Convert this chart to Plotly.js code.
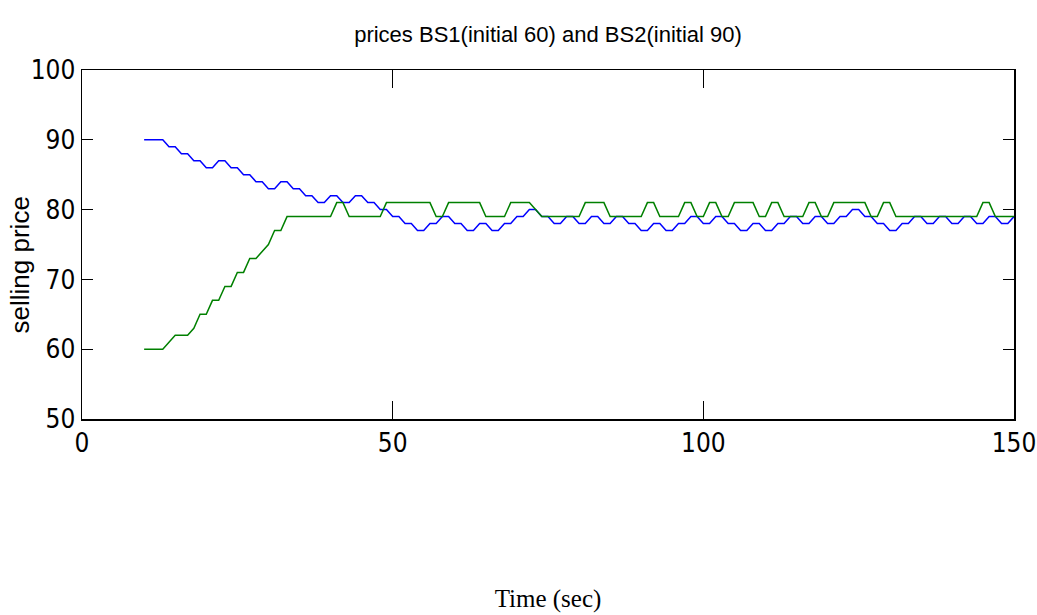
<!DOCTYPE html>
<html>
<head>
<meta charset="utf-8">
<script src="https://cdn.plot.ly/plotly-3.0.1.min.js"></script>
<style>
  html, body { margin: 0; padding: 0; background: #ffffff; }
  #chart { width: 1037px; height: 615px; }
</style>
</head>
<body>
<div id="chart"></div>
<script>
// Time in seconds (samples every second)
const timeSec = [
  10,11,12,13,14,15,16,17,18,19,20,21,22,23,24,25,26,27,28,29,
  30,31,32,33,34,35,36,37,38,39,40,41,42,43,44,45,46,47,48,49,
  50,51,52,53,54,55,56,57,58,59,60,61,62,63,64,65,66,67,68,69,
  70,71,72,73,74,75,76,77,78,79,80,81,82,83,84,85,86,87,88,89,
  90,91,92,93,94,95,96,97,98,99,100,101,102,103,104,105,106,107,108,109,
  110,111,112,113,114,115,116,117,118,119,120,121,122,123,124,125,126,127,128,129,
  130,131,132,133,134,135,136,137,138,139,140,141,142,143,144,145,146,147,148,149,
  150
];

// BS2 selling price (initial 90) - blue
const priceBS2 = [
  90,90,90,90,89,89,88,88,87,87,86,86,87,87,86,86,85,85,84,84,
  83,83,84,84,83,83,82,82,81,81,82,82,81,81,82,82,81,81,80,80,
  79,79,78,78,77,77,78,78,79,79,78,78,77,77,78,78,77,77,78,78,
  79,79,80,80,79,79,78,78,79,79,78,78,79,79,78,78,79,79,78,78,
  77,77,78,78,77,77,78,78,79,79,78,78,79,79,78,78,77,77,78,78,
  77,77,78,78,79,79,78,78,79,79,78,78,79,79,80,80,79,79,78,78,
  77,77,78,78,79,79,78,78,79,79,78,78,79,79,78,78,79,79,78,78,
  79
];

// BS1 selling price (initial 60) - green
const priceBS1 = [
  60,60,60,60,61,62,62,62,63,65,65,67,67,69,69,71,71,73,73,74,
  75,77,77,79,79,79,79,79,79,79,79,81,81,79,79,79,79,79,79,81,
  81,81,81,81,81,81,81,79,79,81,81,81,81,81,81,79,79,79,79,81,
  81,81,81,80,79,79,79,79,79,79,79,81,81,81,81,79,79,79,79,79,
  79,81,81,79,79,79,79,81,81,79,79,81,81,79,79,81,81,81,81,79,
  79,81,81,79,79,79,79,81,81,79,79,81,81,81,81,81,81,79,79,81,
  81,79,79,79,79,79,79,79,79,79,79,79,79,79,79,81,81,79,79,79,
  79
];

const xTicks = [0, 50, 100, 150];
const yTicks = [50, 60, 70, 80, 90, 100];

const traces = [
  {
    x: timeSec, y: priceBS2, type: 'scatter', mode: 'lines',
    name: 'BS2', line: { color: '#0000ff', width: 1.5 }
  },
  {
    x: timeSec, y: priceBS1, type: 'scatter', mode: 'lines',
    name: 'BS1', line: { color: '#008000', width: 1.5 }
  }
];

const tickFont = { family: '"DejaVu Sans Condensed", "Liberation Sans Narrow", sans-serif', size: 26, color: '#000000' };

const layout = {
  width: 1037, height: 615,
  paper_bgcolor: '#ffffff', plot_bgcolor: '#ffffff',
  margin: { l: 82, r: 23, t: 70, b: 196 },
  showlegend: false,
  title: {
    text: 'prices BS1(initial 60) and BS2(initial 90)',
    font: { family: '"Liberation Sans", Arial, sans-serif', size: 22, color: '#000000' },
    x: 0.5, xref: 'paper', xanchor: 'center',
    y: 1 - 34 / 615, yref: 'container', yanchor: 'middle'
  },
  xaxis: {
    range: [0, 150],
    tickvals: xTicks, ticktext: xTicks.map(String),
    ticks: 'inside', ticklen: 18, tickwidth: 1, tickcolor: '#000000',
    showline: true, linecolor: '#000000', linewidth: 1.5, mirror: 'ticks',
    showgrid: false, zeroline: false,
    tickfont: tickFont,
    ticklabeloverflow: 'allow',
    automargin: false,
    title: {
      text: 'Time (sec)',
      font: { family: '"Liberation Serif", "Times New Roman", serif', size: 25, color: '#000000' },
      standoff: 133
    }
  },
  yaxis: {
    range: [50, 100],
    tickvals: yTicks, ticktext: yTicks.map(String),
    ticks: 'inside', ticklen: 11, tickwidth: 1, tickcolor: '#000000',
    showline: true, linecolor: '#000000', linewidth: 1.5, mirror: 'ticks',
    showgrid: false, zeroline: false,
    tickfont: tickFont,
    ticklabeloverflow: 'allow',
    automargin: false
  },
  annotations: [
    {
      text: 'selling price',
      textangle: -90,
      xref: 'paper', yref: 'paper',
      x: 0, y: 0.44,
      xanchor: 'center', yanchor: 'middle',
      xshift: -62,
      showarrow: false,
      font: { family: '"Liberation Sans", Arial, sans-serif', size: 26, color: '#000000' }
    }
  ]
};

Plotly.newPlot('chart', traces, layout, { displayModeBar: false, staticPlot: true });
</script>
</body>
</html>
